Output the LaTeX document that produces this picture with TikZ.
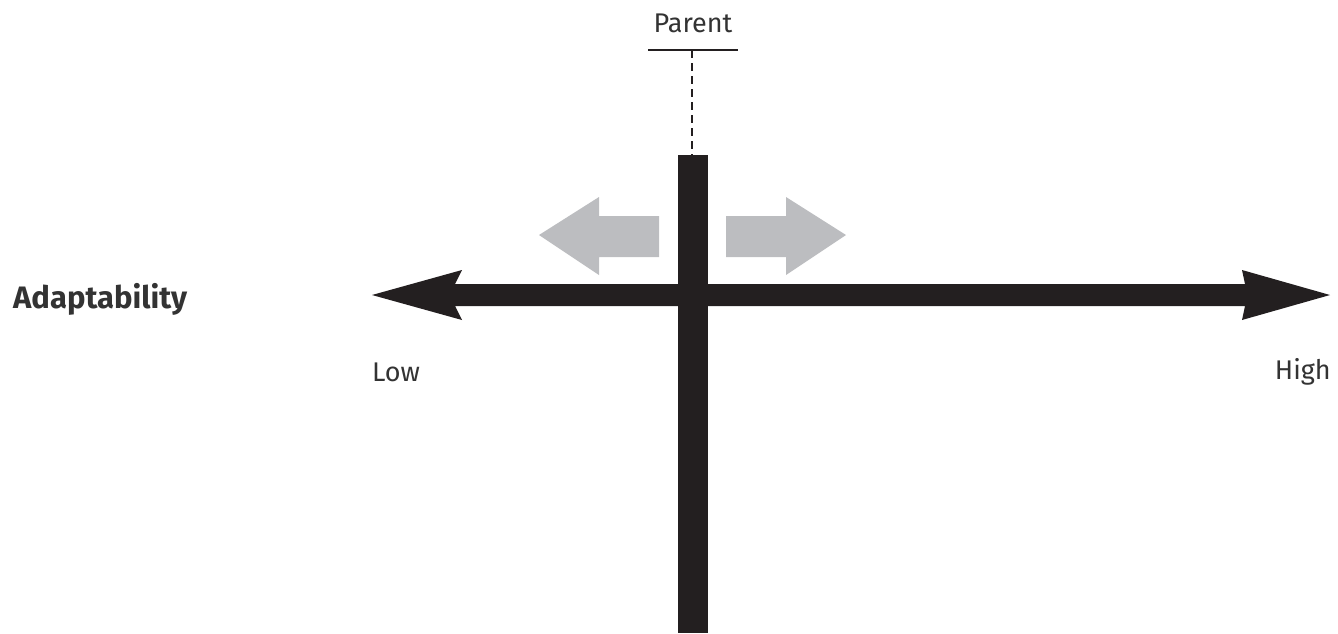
\documentclass[tikz,border=0pt]{standalone}
\usepackage{fontspec}
\setmainfont{Fira Sans}
\begin{document}
\begin{tikzpicture}[x=1pt,y=-1pt,
  shade/.style={fill=arrowgray,draw=none},
  lbl/.style={text=labelgray,inner sep=0pt,font=\fontsize{27}{30}\selectfont}]
\definecolor{barblack}{HTML}{231F20}
\definecolor{arrowgray}{HTML}{BCBDC0}
\definecolor{labelgray}{HTML}{333333}
\useasboundingbox (0,0) rectangle (1338,633);
% horizontal double-headed axis
\fill[barblack] (455,284) -- (1245,284) -- (1242,270) -- (1330,295) -- (1242,320) -- (1245,306)
  -- (455,306) -- (462,320) -- (372,295) -- (462,270) -- cycle;
% vertical bar
\fill[barblack] (678,155) rectangle (708,633);
% parent link
\node[lbl] (parent) at (693,23) {Parent};
\coordinate (pl) at (648,50);
\coordinate (pr) at (738,50);
\coordinate (pm) at (692,50);
\coordinate (top) at (692,155);
\draw[line width=1.4pt,barblack] (pl) -- (pr);
\draw[line width=2.8pt,barblack,dash pattern=on 8pt off 5pt] (pm) -- (top);
% grey movement arrows
\fill[shade] (659,216) -- (599,216) -- (599,197) -- (539,235) -- (599,275) -- (599,257) -- (659,257) -- cycle;
\fill[shade] (726,216) -- (786,216) -- (786,197) -- (846,235) -- (786,275) -- (786,257) -- (726,257) -- cycle;
% labels
\node[lbl,anchor=west,font=\fontsize{31}{34}\selectfont\bfseries] (adapt) at (13,299) {Adaptability};
\node[lbl,anchor=west] (low) at (372,372) {Low};
\node[lbl,anchor=east] (high) at (1331,372) {High};
\end{tikzpicture}
\end{document}
